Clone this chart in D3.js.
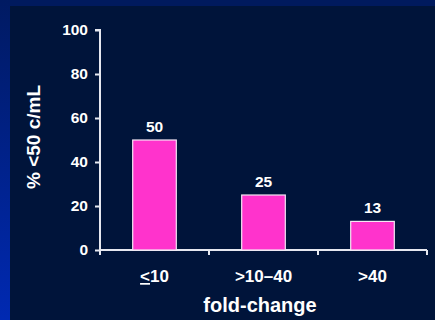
<!DOCTYPE html>
<html>
<head>
<meta charset="utf-8">
<script src="https://cdn.jsdelivr.net/npm/d3@7/dist/d3.min.js"></script>
<style>
  html, body { margin: 0; padding: 0; background: #00143a; }
  svg { display: block; }
  text { font-family: "Liberation Sans", Arial, sans-serif; font-weight: bold; fill: #ffffff; }
</style>
</head>
<body>
<svg id="chart" width="435" height="320"></svg>
<script>
// Share of patients below 50 copies/mL by fold-change group
const categories = ["<=10", ">10–40", ">40"];
const values = [50, 25, 13];
const yTicks = [0, 20, 40, 60, 80, 100];

const W = 435, H = 320;
const svg = d3.select("#chart");

// Backdrop: dark panel with a blue frame on the left and top
const defs = svg.append("defs");
const grad = defs.append("linearGradient")
  .attr("id", "sideGrad").attr("x1", 0).attr("y1", 0).attr("x2", 0).attr("y2", 1);
grad.append("stop").attr("offset", "0%").attr("stop-color", "#001a62");
grad.append("stop").attr("offset", "100%").attr("stop-color", "#0029b2");

svg.append("rect").attr("x", 0).attr("y", 0).attr("width", W).attr("height", H).attr("fill", "#00143a");
svg.append("rect").attr("x", 0).attr("y", 0).attr("width", W).attr("height", 6).attr("fill", "#001a5e");
svg.append("rect").attr("x", 0).attr("y", 0).attr("width", 10).attr("height", H).attr("fill", "url(#sideGrad)");

const x = d3.scaleBand().domain(categories).range([100, 427]).padding(0);
const y = d3.scaleLinear().domain([0, 100]).range([250, 30]);

const axisColor = "#e6e8f0";

// Y axis
const yAxis = svg.append("g")
  .attr("transform", `translate(${x.range()[0]},0)`)
  .call(d3.axisLeft(y).tickValues(yTicks).tickSize(5).tickPadding(7));
yAxis.select(".domain").attr("stroke", axisColor).attr("stroke-width", 2)
  .attr("d", `M-5,${y(100)}H0V${y(0)}`);
yAxis.selectAll(".tick line").attr("stroke", axisColor).attr("stroke-width", 2);
yAxis.selectAll(".tick text")
  .attr("fill", "#ffffff").attr("font-size", "15.5px")
  .attr("font-family", "Liberation Sans, Arial, sans-serif").attr("font-weight", "bold");

// X axis: ticks mark the boundaries between groups
const xEdges = categories.map(c => x(c)).concat([x.range()[1]]);
const xAxisG = svg.append("g").attr("transform", `translate(0,${y(0)})`);
xAxisG.append("line")
  .attr("x1", x.range()[0]).attr("x2", x.range()[1])
  .attr("stroke", axisColor).attr("stroke-width", 2);
xAxisG.selectAll(".edge").data(xEdges).enter().append("line")
  .attr("class", "edge")
  .attr("x1", d => d).attr("x2", d => d).attr("y1", 0).attr("y2", 5)
  .attr("stroke", axisColor).attr("stroke-width", 2);

// Category labels
const catLabels = svg.selectAll(".cat").data(categories).enter().append("text")
  .attr("class", "cat")
  .attr("x", d => x(d) + x.bandwidth() / 2)
  .attr("y", 282)
  .attr("text-anchor", "middle")
  .attr("font-size", "17px");
catLabels.each(function(d) {
  const t = d3.select(this);
  if (d === "<=10") {
    t.append("tspan").attr("text-decoration", "underline").text("<");
    t.append("tspan").text("10");
  } else {
    t.text(d);
  }
});

// Bars
const barW = x.bandwidth() * 0.4;
svg.selectAll(".bar").data(values).enter().append("rect")
  .attr("class", "bar")
  .attr("x", (d, i) => x(categories[i]) + (x.bandwidth() - barW) / 2)
  .attr("y", d => y(d))
  .attr("width", barW)
  .attr("height", d => y(0) - y(d))
  .attr("fill", "#ff33cc")
  .attr("stroke", "#f4e8f4")
  .attr("stroke-width", 1.2);

// Value labels
svg.selectAll(".val").data(values).enter().append("text")
  .attr("class", "val")
  .attr("x", (d, i) => x(categories[i]) + x.bandwidth() / 2)
  .attr("y", d => y(d) - 8)
  .attr("text-anchor", "middle")
  .attr("font-size", "15.5px")
  .text(d => d);

// Axis titles
svg.append("text")
  .attr("x", 260).attr("y", 312)
  .attr("text-anchor", "middle")
  .attr("font-size", "20px")
  .text("fold-change");

svg.append("text")
  .attr("transform", "translate(40,137) rotate(-90)")
  .attr("text-anchor", "middle")
  .attr("font-size", "19px")
  .text("% <50 c/mL");
</script>
</body>
</html>
